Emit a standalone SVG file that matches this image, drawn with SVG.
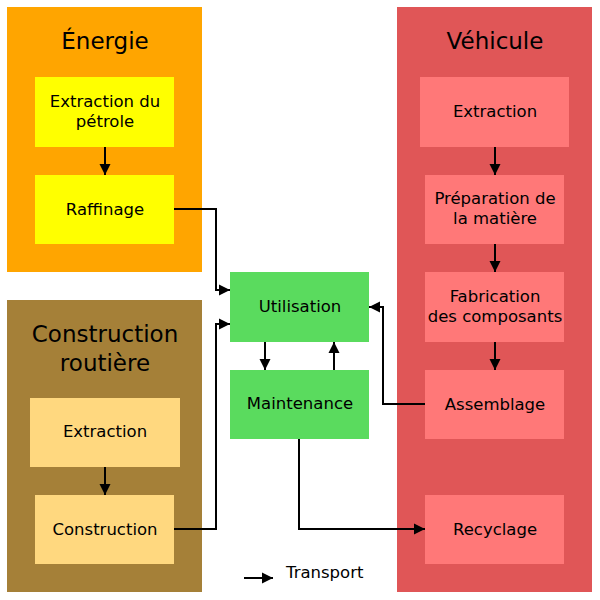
<svg xmlns="http://www.w3.org/2000/svg" width="600" height="600" viewBox="0 0 600 600">
<defs>
<marker id="ah" markerWidth="12" markerHeight="12" refX="11" refY="6" orient="auto" markerUnits="userSpaceOnUse">
<path d="M0,0.5 L11,6 L0,11.5 Z" fill="#000"/>
</marker>
<style>
text{font-family:"DejaVu Sans","Liberation Sans",sans-serif;fill:#000;text-anchor:middle}
.t{font-size:23px}
.s{font-size:16.5px}
.c{fill:none;stroke:#000;stroke-width:2;marker-end:url(#ah)}
</style>
</defs>
<rect width="600" height="600" fill="#fff"/>
<g id="energie">
<rect x="7" y="7" width="195" height="265" fill="#ffa500"/>
<text class="t" x="105" y="49">Énergie</text>
</g>
<g id="vehicule">
<rect x="397" y="7" width="195" height="585" fill="#e05657"/>
<text class="t" x="495" y="49">Véhicule</text>
</g>
<g id="construction-routiere">
<rect x="7" y="300" width="195" height="292" fill="#a58038"/>
<text class="t" x="105" y="342">Construction</text>
<text class="t" x="105" y="371">routière</text>
</g>
<g id="extraction-petrole">
<rect x="35" y="77" width="139" height="70" fill="#ffff00"/>
<text class="s" x="105" y="107">Extraction du</text>
<text class="s" x="105" y="127">pétrole</text>
</g>
<g id="raffinage">
<rect x="35" y="175" width="139" height="69" fill="#ffff00"/>
<text class="s" x="105" y="215">Raffinage</text>
</g>
<g id="extraction-route">
<rect x="30" y="398" width="150" height="69" fill="#ffd87f"/>
<text class="s" x="105" y="437">Extraction</text>
</g>
<g id="construction">
<rect x="35" y="495" width="139" height="69" fill="#ffd87f"/>
<text class="s" x="105" y="535">Construction</text>
</g>
<g id="utilisation">
<rect x="230" y="272" width="139" height="70" fill="#5adb5e"/>
<text class="s" x="300" y="312">Utilisation</text>
</g>
<g id="maintenance">
<rect x="230" y="370" width="139" height="69" fill="#5adb5e"/>
<text class="s" x="300" y="409">Maintenance</text>
</g>
<g id="extraction-vehicule">
<rect x="420" y="77" width="149" height="70" fill="#ff7878"/>
<text class="s" x="495" y="117">Extraction</text>
</g>
<g id="preparation">
<rect x="425" y="175" width="139" height="69" fill="#ff7878"/>
<text class="s" x="495" y="204">Préparation de</text>
<text class="s" x="495" y="224">la matière</text>
</g>
<g id="fabrication">
<rect x="425" y="272" width="139" height="70" fill="#ff7878"/>
<text class="s" x="495" y="302">Fabrication</text>
<text class="s" x="495" y="322">des composants</text>
</g>
<g id="assemblage">
<rect x="425" y="370" width="139" height="69" fill="#ff7878"/>
<text class="s" x="495" y="410">Assemblage</text>
</g>
<g id="recyclage">
<rect x="425" y="495" width="139" height="69" fill="#ff7878"/>
<text class="s" x="495" y="535">Recyclage</text>
</g>
<g id="connectors">
<path class="c" d="M105,147 V175"/>
<path class="c" d="M105,467 V495"/>
<path class="c" d="M495,147 V175"/>
<path class="c" d="M495,244 V272"/>
<path class="c" d="M495,342 V370"/>
<path class="c" d="M174,209 H216 V290 H230"/>
<path class="c" d="M174,529 H216 V324 H230"/>
<path class="c" d="M265,342 V370"/>
<path class="c" d="M334,370 V342"/>
<path class="c" d="M425,404 H383 V307 H369"/>
<path class="c" d="M299,439 V529 H425"/>
</g>
<g id="legend">
<path class="c" d="M244,578 H273"/>
<text class="s" x="286" y="578" style="text-anchor:start">Transport</text>
</g>
</svg>
